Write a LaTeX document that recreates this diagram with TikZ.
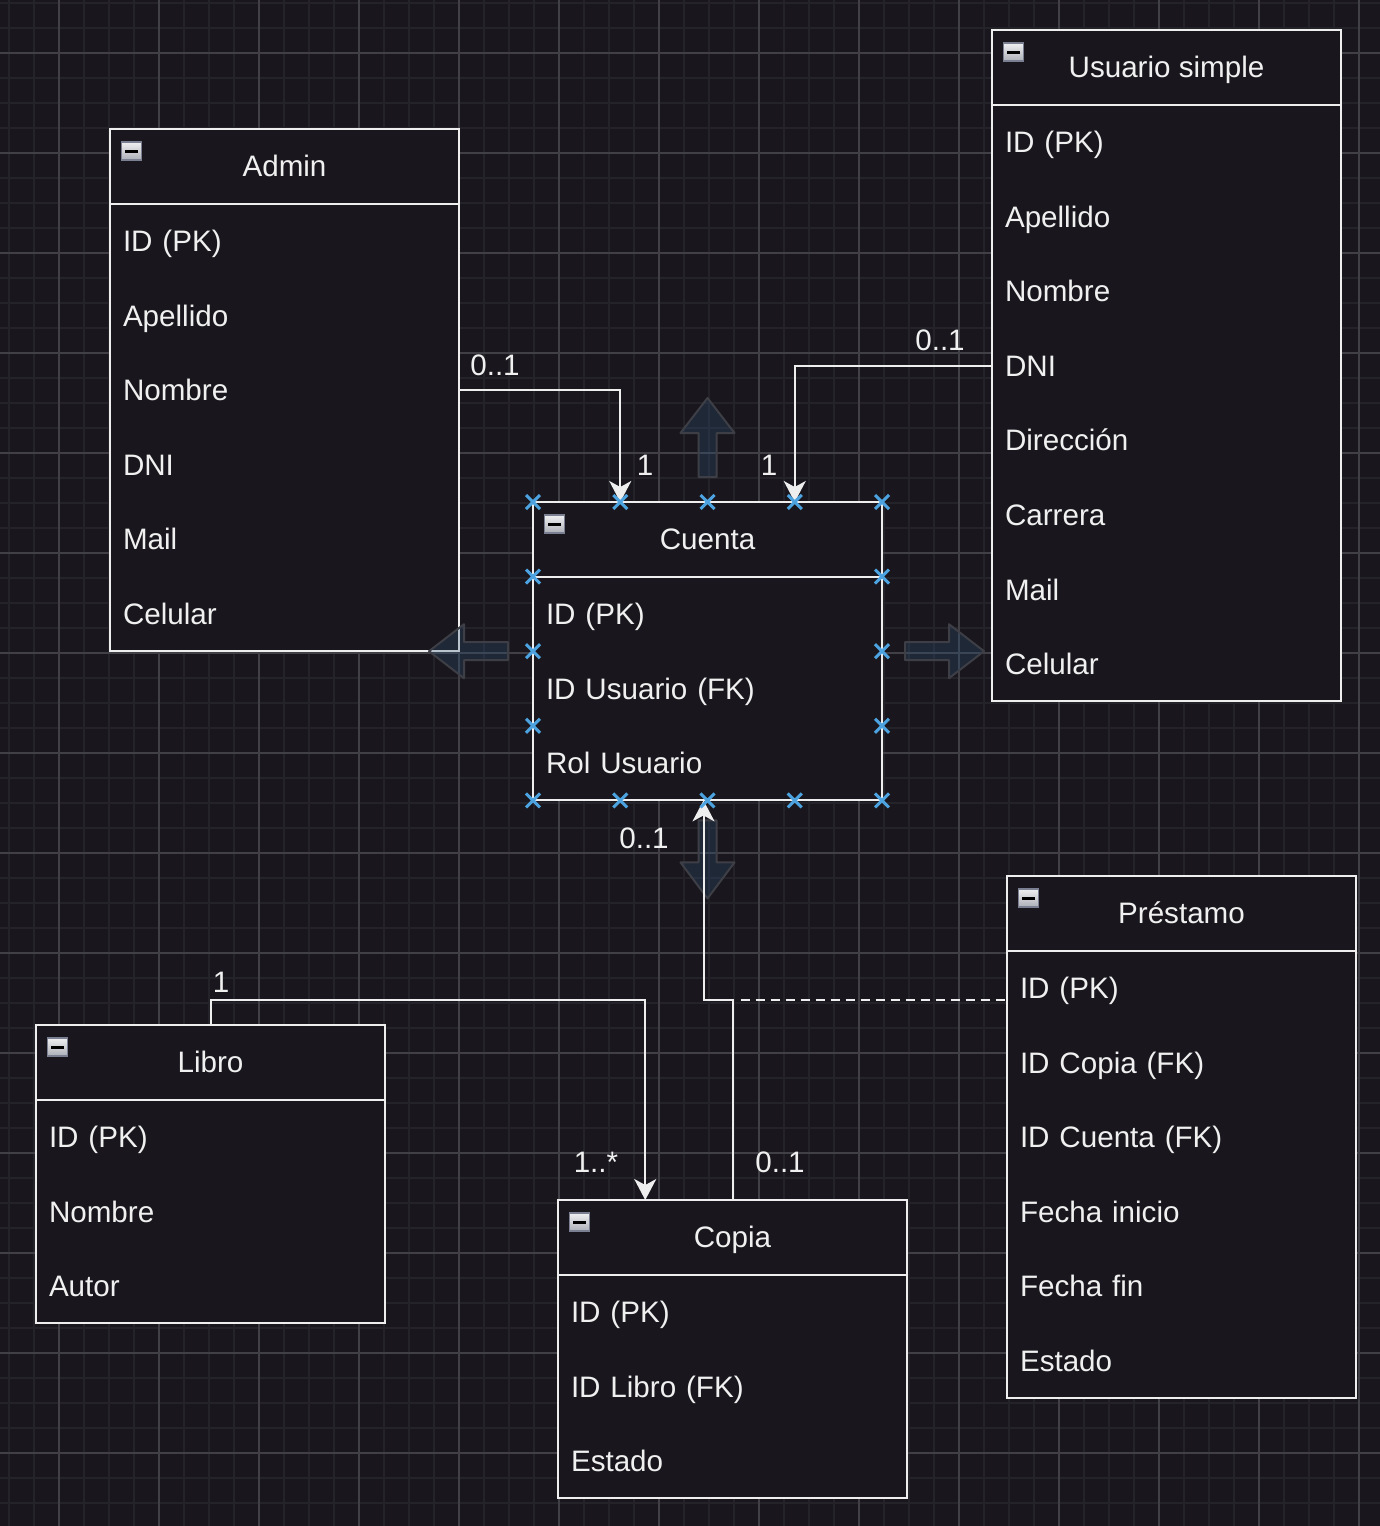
\documentclass[tikz,border=0pt]{standalone}
\usepackage{xcolor}
\usepackage{fontspec}
\setmainfont{Liberation Sans}
\usepackage{tikz}
\usetikzlibrary{arrows.meta, positioning, calc}
\definecolor{bgdark}{RGB}{25,23,29}
\definecolor{gridminor}{RGB}{36,35,41}
\definecolor{gridmajor}{RGB}{64,64,70}
\definecolor{linewhite}{RGB}{238,238,238}
\definecolor{txtwhite}{RGB}{240,240,240}
\definecolor{handleblue}{RGB}{76,163,224}
\definecolor{hoverblue}{RGB}{45,85,125}
\definecolor{hoveredge}{RGB}{62,63,70}
\definecolor{iconedge}{RGB}{122,128,145}
\definecolor{icontop}{RGB}{240,240,242}
\definecolor{iconbot}{RGB}{172,175,183}
\newcommand{\tblfont}{\fontsize{29.6}{34}\selectfont}
\tikzset{
  tblhead/.style={rectangle, fill=bgdark, anchor=north west, inner sep=0pt,
    outer sep=0pt, minimum width=349pt, minimum height=74.6pt, text=txtwhite,
    text height=21.2pt, text depth=0pt, font=\tblfont},
  tblrow/.style={rectangle, fill=bgdark, inner xsep=13pt, inner ysep=0pt,
    outer sep=0pt, text width=323pt, align=left, minimum height=74.6pt,
    text=txtwhite, text height=21.2pt, text depth=0pt, font=\tblfont},
  frame/.style={draw=linewhite, line width=2pt},
  collapse/.style={rectangle, draw=iconedge, line width=1.5pt,
    top color=icontop, bottom color=iconbot, minimum width=20pt,
    minimum height=18pt, inner sep=0pt,
    path picture={\fill[black] ($(path picture bounding box.center)+(-6.5,-1.5)$) rectangle ++(13,3);}},
  lbl/.style={text=txtwhite, inner sep=0pt, text height=21.2pt,
    text depth=0pt, font=\tblfont},
  arrow/.style={-{Stealth[length=21pt, width=22pt, inset=6pt]}, line width=2pt, color=linewhite},
  line/.style={line width=2pt, color=linewhite},
  dashline/.style={line width=2pt, color=linewhite, dash pattern=on 9pt off 6pt},
  handle/.style={line width=3pt, color=handleblue},
  hoverarrow/.style={fill=hoverblue, fill opacity=0.28, draw=hoveredge,
    line width=2pt, line join=round}
}

\begin{document}
\begin{tikzpicture}[x=1pt, y=-1pt]
  \useasboundingbox (0,0) rectangle (1380,1526);
  % Canvas and grid
  \fill[bgdark] (0,0) rectangle (1380,1526);
  \foreach \gx in {9,34,...,1380} \draw[gridminor, line width=1.5pt] (\gx,0) -- (\gx,1526);
  \foreach \gy in {3,28,...,1526} \draw[gridminor, line width=1.5pt] (0,\gy) -- (1380,\gy);
  \foreach \gx in {59,159,...,1380} \draw[gridmajor, line width=1.5pt] (\gx,0) -- (\gx,1526);
  \foreach \gy in {53,153,...,1526} \draw[gridmajor, line width=1.5pt] (0,\gy) -- (1380,\gy);

  % Admin
  \node[tblhead] (admin-head) at (110,129) {Admin};
  \node[tblrow, below=0pt of admin-head] (admin-id) {ID (PK)};
  \node[tblrow, below=0pt of admin-id] (admin-ape) {Apellido};
  \node[tblrow, below=0pt of admin-ape] (admin-nom) {Nombre};
  \node[tblrow, below=0pt of admin-nom] (admin-dni) {DNI};
  \node[tblrow, below=0pt of admin-dni] (admin-mail) {Mail};
  \node[tblrow, below=0pt of admin-mail] (admin-cel) {Celular};
  \draw[frame] (admin-head.north west) rectangle (admin-cel.south east);
  \draw[frame] (admin-head.south west) -- (admin-head.south east);
  \node[collapse] (admin-icon) at ($(admin-head.north west)+(21.5,22)$) {};

  % Usuario simple
  \node[tblhead] (usuario-head) at (992,30) {Usuario simple};
  \node[tblrow, below=0pt of usuario-head] (usuario-id) {ID (PK)};
  \node[tblrow, below=0pt of usuario-id] (usuario-ape) {Apellido};
  \node[tblrow, below=0pt of usuario-ape] (usuario-nom) {Nombre};
  \node[tblrow, below=0pt of usuario-nom] (usuario-dni) {DNI};
  \node[tblrow, below=0pt of usuario-dni] (usuario-dir) {Dirección};
  \node[tblrow, below=0pt of usuario-dir] (usuario-car) {Carrera};
  \node[tblrow, below=0pt of usuario-car] (usuario-mail) {Mail};
  \node[tblrow, below=0pt of usuario-mail] (usuario-cel) {Celular};
  \draw[frame] (usuario-head.north west) rectangle (usuario-cel.south east);
  \draw[frame] (usuario-head.south west) -- (usuario-head.south east);
  \node[collapse] (usuario-icon) at ($(usuario-head.north west)+(21.5,22)$) {};

  % Cuenta
  \node[tblhead] (cuenta-head) at (533,502) {Cuenta};
  \node[tblrow, below=0pt of cuenta-head] (cuenta-id) {ID (PK)};
  \node[tblrow, below=0pt of cuenta-id] (cuenta-usr) {ID Usuario (FK)};
  \node[tblrow, below=0pt of cuenta-usr] (cuenta-rol) {Rol Usuario};
  \draw[frame] (cuenta-head.north west) rectangle (cuenta-rol.south east);
  \draw[frame] (cuenta-head.south west) -- (cuenta-head.south east);
  \node[collapse] (cuenta-icon) at ($(cuenta-head.north west)+(21.5,22)$) {};

  % Prestamo
  \node[tblhead] (prestamo-head) at (1007,876) {Préstamo};
  \node[tblrow, below=0pt of prestamo-head] (prestamo-id) {ID (PK)};
  \node[tblrow, below=0pt of prestamo-id] (prestamo-copia) {ID Copia (FK)};
  \node[tblrow, below=0pt of prestamo-copia] (prestamo-cuenta) {ID Cuenta (FK)};
  \node[tblrow, below=0pt of prestamo-cuenta] (prestamo-ini) {Fecha inicio};
  \node[tblrow, below=0pt of prestamo-ini] (prestamo-fin) {Fecha fin};
  \node[tblrow, below=0pt of prestamo-fin] (prestamo-est) {Estado};
  \draw[frame] (prestamo-head.north west) rectangle (prestamo-est.south east);
  \draw[frame] (prestamo-head.south west) -- (prestamo-head.south east);
  \node[collapse] (prestamo-icon) at ($(prestamo-head.north west)+(21.5,22)$) {};

  % Libro
  \node[tblhead] (libro-head) at (36,1025) {Libro};
  \node[tblrow, below=0pt of libro-head] (libro-id) {ID (PK)};
  \node[tblrow, below=0pt of libro-id] (libro-nom) {Nombre};
  \node[tblrow, below=0pt of libro-nom] (libro-aut) {Autor};
  \draw[frame] (libro-head.north west) rectangle (libro-aut.south east);
  \draw[frame] (libro-head.south west) -- (libro-head.south east);
  \node[collapse] (libro-icon) at ($(libro-head.north west)+(21.5,22)$) {};

  % Copia
  \node[tblhead] (copia-head) at (558,1200) {Copia};
  \node[tblrow, below=0pt of copia-head] (copia-id) {ID (PK)};
  \node[tblrow, below=0pt of copia-id] (copia-libro) {ID Libro (FK)};
  \node[tblrow, below=0pt of copia-libro] (copia-est) {Estado};
  \draw[frame] (copia-head.north west) rectangle (copia-est.south east);
  \draw[frame] (copia-head.south west) -- (copia-head.south east);
  \node[collapse] (copia-icon) at ($(copia-head.north west)+(21.5,22)$) {};

  % Hover arrows round Cuenta
  \draw[hoverarrow] ($(cuenta-head.north)+(0,-25)$) -- ++(9,0) -- ++(0,-44) -- ++(18,0) -- ++(-27,-35) -- ++(-27,35) -- ++(18,0) -- ++(0,44) -- cycle;
  \draw[hoverarrow] ($(cuenta-rol.south)+(0,20)$) -- ++(9,0) -- ++(0,42) -- ++(18,0) -- ++(-27,36) -- ++(-27,-36) -- ++(18,0) -- ++(0,-42) -- cycle;
  \draw[hoverarrow] ($(cuenta-usr.north west)+(-25,0)$) -- ++(0,-9) -- ++(-44,0) -- ++(0,-18) -- ++(-35,27) -- ++(35,27) -- ++(0,-18) -- ++(44,0) -- cycle;
  \draw[hoverarrow] ($(cuenta-usr.north east)+(23,0)$) -- ++(0,-9) -- ++(44,0) -- ++(0,-18) -- ++(35,27) -- ++(-35,27) -- ++(0,-18) -- ++(-44,0) -- cycle;

  % Connectors
  \draw[arrow] (admin-nom.east) -| ($(cuenta-head.north west)!0.25!(cuenta-head.north east)$);
  \draw[arrow] (usuario-dni.west) -| ($(cuenta-head.north west)!0.75!(cuenta-head.north east)$);
  \draw[arrow] (libro-head.north) -- ++(0,-25) -| ($(copia-head.north west)!0.25!(copia-head.north east)$);
  \coordinate (copia-bend) at ($(copia-head.north)+(0,-200)$);
  \draw[arrow] (copia-head.north) -- (copia-bend) -| ([xshift=-4pt]cuenta-rol.south);
  \draw[dashline] ($(copia-bend)+(8,0)$) -- (copia-bend -| prestamo-id.west);

  % Multiplicities
  \node[lbl] (lbl-admin) at (495,365) {0..1};
  \node[lbl] (lbl-cuenta-a) at (645,465) {1};
  \node[lbl] (lbl-usuario) at (940,340) {0..1};
  \node[lbl] (lbl-cuenta-u) at (769,465) {1};
  \node[lbl] (lbl-cuenta-c) at (644,838) {0..1};
  \node[lbl] (lbl-libro) at (221,982) {1};
  \node[lbl] (lbl-copia-l) at (596,1162) {1..*};
  \node[lbl] (lbl-copia-c) at (780,1162) {0..1};

  % Selection handles on Cuenta
  \foreach \f in {0,0.25,0.5,0.75,1} {
    \draw[handle] ($(cuenta-head.north west)!\f!(cuenta-head.north east)$) +(-7,-7) -- +(7,7) +(-7,7) -- +(7,-7);
    \draw[handle] ($(cuenta-rol.south west)!\f!(cuenta-rol.south east)$) +(-7,-7) -- +(7,7) +(-7,7) -- +(7,-7);
  }
  \foreach \f in {0.25,0.5,0.75} {
    \draw[handle] ($(cuenta-head.north west)!\f!(cuenta-rol.south west)$) +(-7,-7) -- +(7,7) +(-7,7) -- +(7,-7);
    \draw[handle] ($(cuenta-head.north east)!\f!(cuenta-rol.south east)$) +(-7,-7) -- +(7,7) +(-7,7) -- +(7,-7);
  }
\end{tikzpicture}
\end{document}
